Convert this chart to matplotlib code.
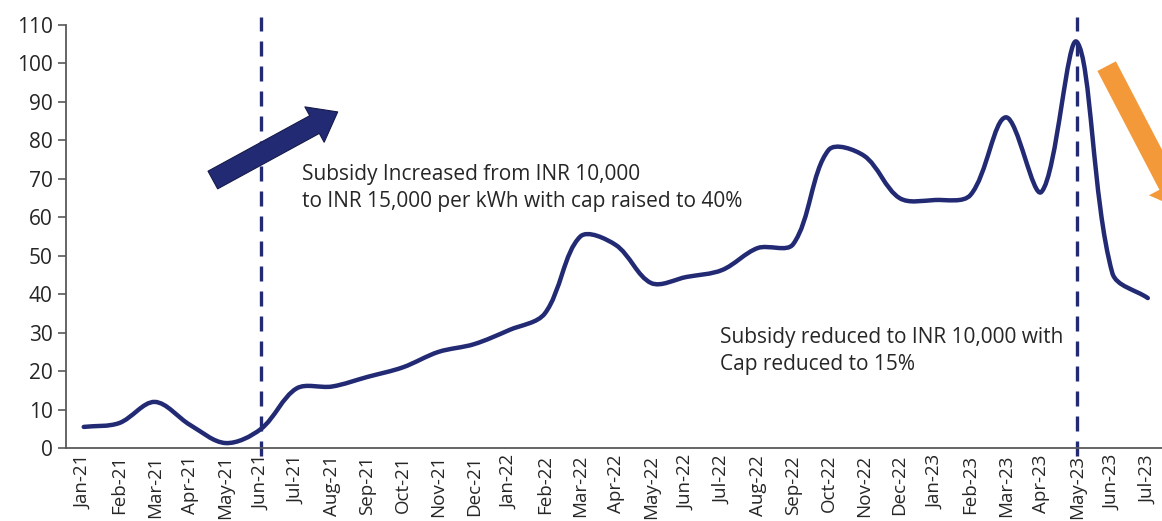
import matplotlib
matplotlib.use("Agg")
import matplotlib.pyplot as plt
import numpy as np
from matplotlib.path import Path
from matplotlib.patches import PathPatch, FancyArrowPatch

plt.rcParams['font.family'] = ['Open Sans', 'DejaVu Sans']

# Monthly values
months = ['Jan-21', 'Feb-21', 'Mar-21', 'Apr-21', 'May-21', 'Jun-21', 'Jul-21', 'Aug-21',
          'Sep-21', 'Oct-21', 'Nov-21', 'Dec-21', 'Jan-22', 'Feb-22', 'Mar-22', 'Apr-22',
          'May-22', 'Jun-22', 'Jul-22', 'Aug-22', 'Sep-22', 'Oct-22', 'Nov-22', 'Dec-22',
          'Jan-23', 'Feb-23', 'Mar-23', 'Apr-23', 'May-23', 'Jun-23', 'Jul-23']
values = [5.5, 6.5, 12.0, 6.0, 1.3, 5.0, 15.5, 16.0, 18.5, 21.0, 25.0, 27.0, 30.7, 35.0,
          55.0, 52.8, 42.9, 44.5, 46.3, 52.0, 53.0, 77.5, 76.0, 65.0, 64.5, 65.8, 86.0,
          66.6, 105.6, 45.5, 39.0]
policy_months = ['Jun-21', 'May-23']

NAVY = '#232A74'
ORANGE = '#F4993A'


def smooth_path(x, y, sx, sy):
    """Bezier path through the points, tangents scaled by chord length (Excel-like smoothing).
    sx, sy are pixels per data unit so lengths are measured on screen."""
    x = np.asarray(x, float)
    y = np.asarray(y, float)
    n = len(x)
    px, py = x * sx, y * sy
    seg = np.hypot(np.diff(px), np.diff(py))
    out_c, in_c = [], []
    for i in range(n):
        a, b = max(i - 1, 0), min(i + 1, n - 1)
        dx, dy = x[b] - x[a], y[b] - y[a]
        lp = seg[i - 1] if i > 0 else 0.0
        ln = seg[i] if i < n - 1 else 0.0
        tot = lp + ln
        out_c.append((x[i] + dx * ln / (3 * tot), y[i] + dy * ln / (3 * tot)))
        in_c.append((x[i] - dx * lp / (3 * tot), y[i] - dy * lp / (3 * tot)))
    verts = [(x[0], y[0])]
    codes = [Path.MOVETO]
    for i in range(n - 1):
        verts += [out_c[i], in_c[i + 1], (x[i + 1], y[i + 1])]
        codes += [Path.CURVE4] * 3
    return Path(verts, codes)


fig = plt.figure(figsize=(11.62, 5.21), dpi=100)
ax = fig.add_axes([0.0568, 0.140, 0.9432, 0.812])
ax.set_xlim(-0.5, 30.4)
ax.set_ylim(0, 110)

x = np.arange(len(months))
bbox = ax.get_window_extent()
sx = bbox.width / 30.9
sy = bbox.height / 110
ax.add_patch(PathPatch(smooth_path(x, values, sx, sy), facecolor='none', edgecolor=NAVY,
                       lw=3.2, capstyle='round', joinstyle='round', zorder=3))

# vertical dashed markers for policy changes
for m in policy_months:
    xi = months.index(m)
    ax.plot([xi, xi], [-2, 112], color=NAVY, lw=2.4, ls=(0, (4.5, 3)), clip_on=False, zorder=2)

# arrows
ax.add_patch(FancyArrowPatch((3.64, 69.7), (7.16, 87.4),
                             arrowstyle='simple,head_width=2.9,head_length=1.9,tail_width=1.45',
                             mutation_scale=10, facecolor=NAVY, edgecolor='#151a4a', lw=0.8,
                             shrinkA=0, shrinkB=0, zorder=4))
ax.add_patch(FancyArrowPatch((28.84, 99.3), (30.95, 62.0),
                             arrowstyle='simple,head_width=3.2,head_length=2.0,tail_width=1.5',
                             mutation_scale=10, facecolor=ORANGE, edgecolor='none',
                             shrinkA=0, shrinkB=0, clip_on=False, zorder=4))

ax.text(6.15, 67.6, 'Subsidy Increased from INR 10,000\nto INR 15,000 per kWh with cap raised to 40%',
        fontsize=15, color='#262626', va='center', ha='left', linespacing=1.4)
ax.text(17.95, 25.2, 'Subsidy reduced to INR 10,000 with\nCap reduced to 15%',
        fontsize=15, color='#262626', va='center', ha='left', linespacing=1.4)

ax.set_yticks(np.arange(0, 111, 10))
ax.set_xticks(x)
ax.set_xticklabels(months, rotation=90, fontsize=13.5, color='#262626')
ax.tick_params(axis='y', labelsize=15, colors='#262626', length=6, width=1.2, color='#595959')
ax.tick_params(axis='x', length=0, pad=5)
for s in ['top', 'right']:
    ax.spines[s].set_visible(False)
for s in ['left', 'bottom']:
    ax.spines[s].set_color('#595959')
    ax.spines[s].set_linewidth(1.3)

fig.savefig('out.png', dpi=100)
